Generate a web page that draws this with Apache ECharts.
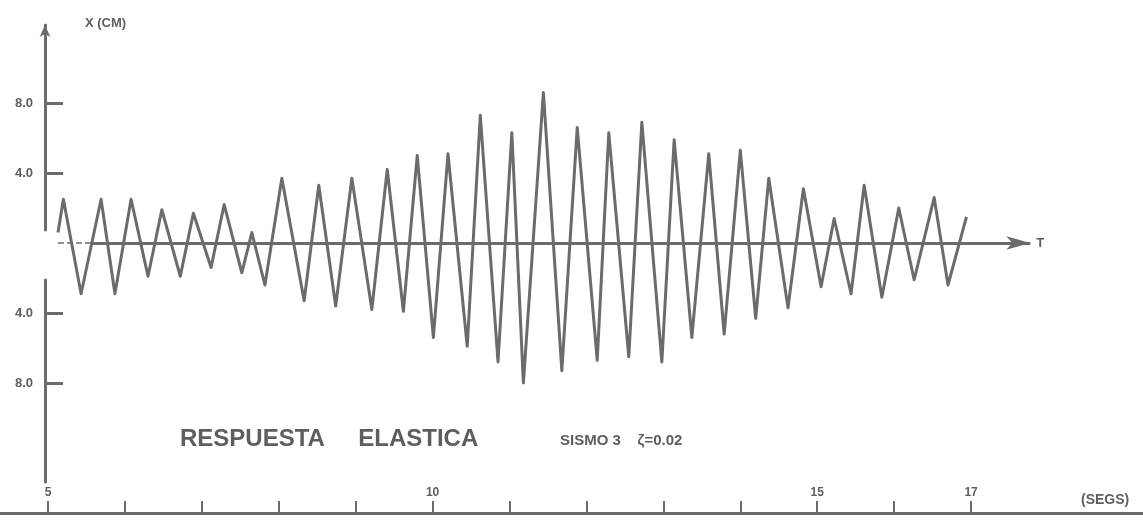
<!DOCTYPE html>
<html>
<head>
<meta charset="utf-8">
<title>Respuesta elastica</title>
<script src="https://cdn.jsdelivr.net/npm/echarts@6/dist/echarts.min.js"></script>
<style>
html, body {
    margin: 0;
    width: 100%;
    height: 100%;
    background: #ffffff;
}
#main {
    width: 1143px;
    height: 520px;
}
</style>
</head>
<body>
<div id="main"></div>
<script>
// respuesta elastica, sismo 3, amortiguamiento 0.02
var tiempos = [5.13, 5.20, 5.43, 5.69, 5.87, 6.08, 6.30, 6.48, 6.72, 6.89,
               7.12, 7.29, 7.52, 7.65, 7.82, 8.04, 8.33, 8.52, 8.74, 8.95,
               9.21, 9.41, 9.62, 9.80, 10.01, 10.20, 10.45, 10.62, 10.85, 11.03,
               11.18, 11.44, 11.68, 11.88, 12.14, 12.29, 12.55, 12.72, 12.98, 13.14,
               13.37, 13.59, 13.79, 14.00, 14.20, 14.37, 14.62, 14.82, 15.05, 15.22,
               15.44, 15.61, 15.84, 16.06, 16.26, 16.52, 16.70, 16.94];
var desplaz = [0.6, 2.5, -2.9, 2.5, -2.9, 2.5, -1.9, 1.9, -1.9, 1.7,
               -1.4, 2.2, -1.7, 0.6, -2.4, 3.7, -3.3, 3.3, -3.6, 3.7,
               -3.8, 4.2, -3.9, 5.0, -5.4, 5.1, -5.9, 7.3, -6.8, 6.3,
               -8.0, 8.6, -7.3, 6.6, -6.7, 6.3, -6.5, 6.9, -6.8, 5.9,
               -5.4, 5.1, -5.2, 5.3, -4.3, 3.7, -3.7, 3.1, -2.5, 1.4,
               -2.9, 3.3, -3.1, 2.0, -2.1, 2.6, -2.4, 1.5];

var ticksT = [5, 6, 7, 8, 9, 10, 11, 12, 13, 14, 15, 16, 17];
var etiquetasT = [5, 10, 15, 17];
var ticksX = [8, 4, -4, -8];

// eje T (linea de cero): tramo punteado y tramo con flecha
var ejeT = [5.13, 5.55, 17.77];

var gris = '#6b6b6b';
var texto = '#5e5e5e';
var fuente = 'Liberation Sans';

var datos = tiempos.map(function (t, i) { return [t, desplaz[i]]; });

var myChart = echarts.init(document.getElementById('main'));
myChart.setOption({
    animation: false,
    backgroundColor: '#ffffff',
    title: [
        { text: 'RESPUESTA     ELASTICA', left: 175, top: 422,
          textStyle: { fontFamily: fuente, fontSize: 24, fontWeight: 'bold', color: texto } },
        { text: 'SISMO 3    \u03b6=0.02', left: 555, top: 428,
          textStyle: { fontFamily: fuente, fontSize: 15, fontWeight: 'bold', color: texto } },
        { text: '(SEGS)', left: 1076, top: 488,
          textStyle: { fontFamily: fuente, fontSize: 14, fontWeight: 'bold', color: texto } }
    ],
    grid: { left: 0, right: 0, top: 25, bottom: 7 },
    xAxis: {
        type: 'value',
        min: 4.376,
        max: 19.235,
        splitLine: { show: false },
        axisLine: { onZero: false, lineStyle: { color: gris, width: 3 } },
        axisTick: { customValues: ticksT, inside: true, length: 12,
                    lineStyle: { color: gris, width: 2 } },
        axisLabel: { customValues: etiquetasT, inside: true, margin: 14,
                     fontFamily: fuente, fontSize: 12, fontWeight: 'bold', color: texto }
    },
    yAxis: {
        type: 'value',
        min: -15.43,
        max: 12.46,
        offset: -45,
        name: 'X (CM)',
        nameLocation: 'end',
        nameGap: 2,
        nameTextStyle: { align: 'left', verticalAlign: 'middle', padding: [0, 0, 0, 40],
                         fontFamily: fuente, fontSize: 13, fontWeight: 'bold', color: texto },
        splitLine: { show: false },
        axisLine: { symbol: ['none', 'arrow'], symbolSize: [8, 12],
                    lineStyle: { color: gris, width: 3, type: [202, 50, 600, 31], dashOffset: 852 } },
        axisTick: { customValues: ticksX, inside: true, length: 18,
                    lineStyle: { color: gris, width: 3 } },
        axisLabel: { customValues: ticksX, margin: 12,
                     formatter: function (v) { return Math.abs(v).toFixed(1); },
                     fontFamily: fuente, fontSize: 13, fontWeight: 'bold', color: texto }
    },
    series: [{
        type: 'line',
        data: datos,
        symbol: 'none',
        lineStyle: { color: gris, width: 3, join: 'round' },
        markLine: {
            silent: true,
            symbol: 'none',
            lineStyle: { color: gris, width: 3, type: 'solid' },
            label: { show: false },
            data: [
                [{ coord: [ejeT[0], 0], lineStyle: { type: 'dashed', width: 1.5 } },
                 { coord: [ejeT[1], 0] }],
                [{ coord: [ejeT[1], 0] },
                 { coord: [ejeT[2], 0], symbol: 'arrow', symbolSize: [10, 24],
                   label: { show: true, position: 'end', distance: 6, formatter: 'T',
                            fontFamily: fuente, fontSize: 13, fontWeight: 'bold', color: texto } }]
            ]
        }
    }]
});
</script>
</body>
</html>
